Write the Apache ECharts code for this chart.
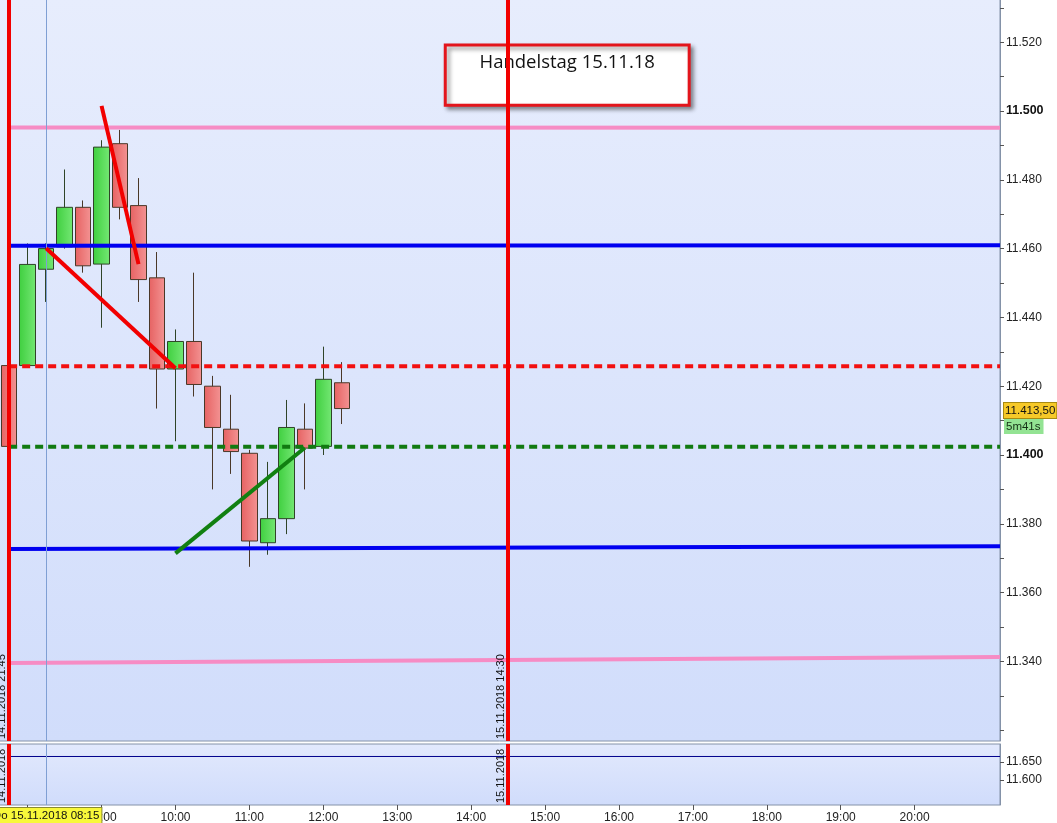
<!DOCTYPE html>
<html><head><meta charset="utf-8">
<script src="https://cdn.jsdelivr.net/npm/echarts@6/dist/echarts.min.js"></script>
<style>html,body{margin:0;padding:0;background:#fff}#c{width:1057px;height:823px}</style>
</head><body><div id="c"></div>
<script>
// ---- data ----
const candleTimes = ['14.11 21:45','08:00','08:15','08:30','08:45','09:00','09:15','09:30','09:45','10:00','10:15','10:30','10:45','11:00','11:15','11:30','11:45','12:00','12:15'];
const opens  = [11426, 11426, 11454, 11460.5, 11472, 11455.5, 11490.5, 11472.5, 11451.5, 11425, 11433, 11420, 11407.5, 11400.5, 11374.5, 11381.5, 11407.5, 11402.5, 11421];
const closes = [11402.5, 11455.4, 11460, 11472, 11455, 11489.5, 11472, 11451, 11425, 11433, 11420.5, 11408, 11401, 11375, 11381.5, 11408, 11402, 11422, 11413.5];
const lows   = [11402, 11425.5, 11444.5, 11460, 11453, 11437, 11468.5, 11444.5, 11413.5, 11404, 11417, 11390, 11394.5, 11367.5, 11371, 11377, 11390, 11400, 11409];
const highs  = [11426.5, 11461.5, 11461.5, 11483, 11474, 11491.5, 11494.5, 11480.5, 11459, 11436.5, 11453, 11423, 11417.5, 11401.5, 11398, 11416, 11415, 11431.5, 11427];

const xTickLabels = ['08:00','09:00','10:00','11:00','12:00','13:00','14:00','15:00','16:00','17:00','18:00','19:00','20:00'];
const yTickValues = [11320,11330,11340,11350,11360,11370,11380,11390,11400,11410,11420,11430,11440,11450,11460,11470,11480,11490,11500,11510,11520,11530];
const yLabelValues = [11340,11360,11380,11400,11420,11440,11460,11480,11500,11520];
const yBoldLabels = [11400, 11500];
const y2LabelValues = [11600, 11650];

// horizontal levels (left value at first candle, right value at chart edge)
const levelStartValues = [11495.2, 11460.8, 11425.8, 11402.4, 11372.7, 11339.5];
const levelEndValues   = [11495.1, 11461.0, 11425.8, 11402.4, 11373.5, 11341.3];
const lowerLevelValue = 11665.2;

// trend lines: [time from, value from, time to, value to]
const trendRed1  = ['09:00', 11501.5, '09:30', 11455.5];
const trendRed2  = ['08:15', 11460.1, '10:00', 11425.2];
const trendGreen = ['10:00', 11371.4, '11:45', 11402.1];

const verticalTimes = ['14.11 21:45', '14:30'];
const verticalTexts = ['14.11.2018 21:45', '15.11.2018 14:30'];
const crosshairTime = '08:15';
const crosshairText = 'Do 15.11.2018 08:15';
const countdownText = '5m41s';
const noteText = 'Handelstag 15.11.18';
const noteFrom = [23.6, 11519.2];
const noteTo   = [36.8, 11501.7];

// ---- helpers ----
function slotOf(t){
  if (t.indexOf('14.11') === 0) return 0;
  const p = t.split(':');
  return 1 + ((+p[0] - 8) * 60 + (+p[1])) / 15;
}
function fmtPts(v){
  const t = Math.floor(v / 1000 + 1e-9);
  const r = Math.round(v - t * 1000);
  return t + '.' + String(r).padStart(3, '0');
}
function fmtPrice(v){
  const t = Math.floor(v / 1000);
  const r = v - t * 1000;
  const ip = Math.floor(r);
  const dec = Math.round((r - ip) * 100);
  return t + '.' + String(ip).padStart(3,'0') + ',' + String(dec).padStart(2,'0');
}

const X_MIN = -0.55, X_MAX = 53.62;
const Y_MIN = 11316.86, Y_MAX = 11532.56;
const Y2_MIN = 11530, Y2_MAX = 11700;

const candleData = candleTimes.map((t, i) => [slotOf(t), opens[i], closes[i], lows[i], highs[i]]);
const hourSlots = xTickLabels.map(slotOf);
const lastPrice = closes[closes.length - 1];

const LG = echarts.graphic.LinearGradient;
const chart = echarts.init(document.getElementById('c'), null, {renderer: 'canvas'});

function levelSeries(i, style){
  return {type:'line', xAxisIndex:0, yAxisIndex:0, z:4, symbol:'none', silent:true, animation:false,
    data:[[0, levelStartValues[i]], [X_MAX, levelEndValues[i]]], lineStyle: style};
}
function trendSeries(tr, color){
  return {type:'line', xAxisIndex:0, yAxisIndex:0, z:5, symbol:'none', silent:true, animation:false,
    data:[[slotOf(tr[0]), tr[1]], [slotOf(tr[2]), tr[3]]], lineStyle:{color: color, width:4}};
}
const vLabelStyle = {fontFamily:'Liberation Sans', fontSize:11, color:'#111'};
function verticalMarks(truncate){
  const arr = verticalTimes.map((t, i) => ({
    xAxis: slotOf(t),
    lineStyle:{color:'#f20000', width:4, type:'solid'},
    label: Object.assign({show:true, position:'insideStartTop', distance:[2, 2], formatter: verticalTexts[i]},
      vLabelStyle, truncate ? {width:62, overflow:'truncate', ellipsis:''} : {})
  }));
  arr.push({xAxis: slotOf(crosshairTime), lineStyle:{color:'#7f9fd4', width:1, type:'solid'}, label:{show:false}});
  return arr;
}

const option = {
  backgroundColor:'#ffffff',
  animation:false,
  grid:[
    {left:-1, right:57, top:-1, height:742, show:true, outerBoundsMode:'none',
     backgroundColor: new LG(0,0,0,1,[{offset:0,color:'#e7edfd'},{offset:1,color:'#d1ddfb'}]),
     borderColor:'#8492a8', borderWidth:1},
    {left:-1, right:57, top:744, height:61, show:true, outerBoundsMode:'none',
     backgroundColor: new LG(0,0,0,1,[{offset:0,color:'#e2e9fd'},{offset:1,color:'#d0dcfb'}]),
     borderColor:'#8492a8', borderWidth:1}
  ],
  xAxis:[
    {gridIndex:0, type:'value', min:X_MIN, max:X_MAX, show:false, axisLine:{onZero:false}},
    {gridIndex:1, type:'value', min:X_MIN, max:X_MAX,
     axisLine:{show:false, onZero:false},
     axisTick:{show:true, customValues: hourSlots, length:5, lineStyle:{color:'#555'}},
     axisLabel:{customValues: hourSlots, margin:7, fontFamily:'Liberation Sans', fontSize:12, color:'#222',
       formatter: v => { const k = hourSlots.indexOf(Math.round(v)); return k >= 0 ? xTickLabels[k] : ''; }},
     splitLine:{show:false}}
  ],
  yAxis:[
    {gridIndex:0, type:'value', position:'right', min:Y_MIN, max:Y_MAX,
     axisLine:{show:true, onZero:false, lineStyle:{color:'#8492a8'}},
     axisTick:{show:true, length:4, customValues: yTickValues, lineStyle:{color:'#555'}},
     axisLabel:{customValues: yLabelValues, margin:6, fontFamily:'Liberation Sans', fontSize:12, color:'#222',
       formatter: v => yBoldLabels.indexOf(Math.round(v)) >= 0 ? '{b|' + fmtPts(v) + '}' : fmtPts(v),
       rich:{b:{fontWeight:'bold', fontSize:12.5, fontFamily:'Liberation Sans', color:'#111'}}},
     splitLine:{show:false}},
    {gridIndex:1, type:'value', position:'right', min:Y2_MIN, max:Y2_MAX,
     axisLine:{show:true, onZero:false, lineStyle:{color:'#8492a8'}},
     axisTick:{show:true, length:4, customValues: y2LabelValues, lineStyle:{color:'#555'}},
     axisLabel:{customValues: y2LabelValues, margin:6, fontFamily:'Liberation Sans', fontSize:12, color:'#222', formatter: fmtPts},
     splitLine:{show:false}}
  ],
  series:[
    {type:'candlestick', xAxisIndex:0, yAxisIndex:0, z:2, barWidth:16, silent:true,
     dimensions:['slot','open','close','lowest','highest'],
     encode:{x:0, y:[1,2,3,4]},
     data: candleData,
     itemStyle:{
       color: new LG(0,0,1,0,[{offset:0,color:'#3fcf3f'},{offset:1,color:'#74e774'}]),
       color0: new LG(0,0,1,0,[{offset:0,color:'#e66262'},{offset:1,color:'#f39393'}]),
       borderColor:'#2f4428', borderColor0:'#4a3828', borderWidth:1},
     markPoint:{symbol:'rect', symbolSize:0, silent:true, animation:false,
       data:[
         {coord:[X_MAX, lastPrice], label:{show:true, position:'right', distance:4, offset:[0,2], formatter: fmtPrice(lastPrice),
           backgroundColor:'#f6c928', borderColor:'#a88a10', borderWidth:1, padding:[2,1,1,1],
           fontFamily:'Liberation Sans', fontSize:11.5, color:'#111'}},
         {coord:[X_MAX, lastPrice], label:{show:true, position:'right', distance:4, offset:[0,18], formatter: countdownText,
           backgroundColor:'#93e393', padding:[2,3,1,2],
           fontFamily:'Liberation Sans', fontSize:11.5, color:'#143014'}}
       ]}
    },
    {type:'line', xAxisIndex:0, yAxisIndex:0, z:3, data:[], silent:true,
     markLine:{symbol:['none','none'], silent:true, animation:false, data: verticalMarks(false)}},
    levelSeries(0, {color:'#f68cc4', width:4}),
    levelSeries(1, {color:'#0000f0', width:4}),
    levelSeries(2, {color:'#f21010', width:4, type:[8,5]}),
    levelSeries(3, {color:'#117a11', width:4, type:[8,5]}),
    levelSeries(4, {color:'#0000f0', width:4}),
    levelSeries(5, {color:'#f68cc4', width:4}),
    trendSeries(trendRed1, '#f20000'),
    trendSeries(trendRed2, '#f20000'),
    trendSeries(trendGreen, '#118011'),
    {type:'line', xAxisIndex:0, yAxisIndex:0, z:6, data:[], silent:true,
     markArea:{silent:true, animation:false,
       itemStyle:{color:'#ffffff', borderColor:'#e3151c', borderWidth:3,
         shadowColor:'rgba(0,0,0,0.4)', shadowBlur:4, shadowOffsetX:3, shadowOffsetY:3},
       label:{show:true, position:'insideTop', distance:10, formatter: noteText,
         fontFamily:'Open Sans', fontSize:18.5, color:'#111'},
       data:[[{coord: noteFrom}, {coord: noteTo}]]}},
    // lower panel
    {type:'line', xAxisIndex:1, yAxisIndex:1, z:3, data:[], silent:true,
     markLine:{symbol:['none','none'], silent:true, animation:false, data: verticalMarks(true)}},
    {type:'line', xAxisIndex:1, yAxisIndex:1, z:4, symbol:'none', silent:true,
     data:[[0, lowerLevelValue], [X_MAX, lowerLevelValue]], lineStyle:{color:'#00008c', width:1},
     markPoint:{symbol:'rect', symbolSize:0, silent:true, animation:false,
       data:[{coord:[slotOf(crosshairTime), Y2_MIN], label:{show:true, position:'bottom', distance:3,
         formatter: crosshairText, backgroundColor:'#f8f83a', borderColor:'#8a8a30', borderWidth:1,
         padding:[2,2,1,2], fontFamily:'Liberation Sans', fontSize:11.5, color:'#111'}}]}}
  ]
};
chart.setOption(option);
</script>
</body></html>
